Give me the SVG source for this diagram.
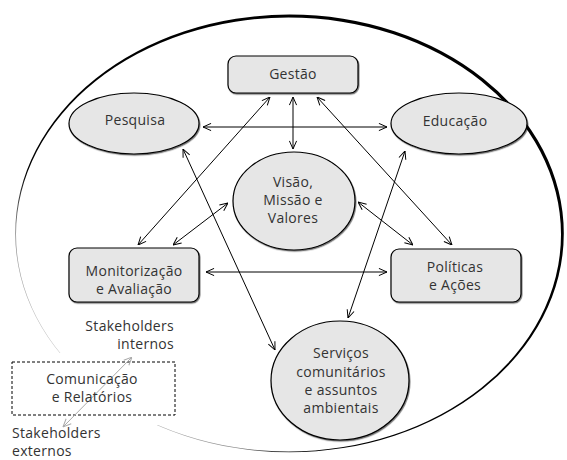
<svg xmlns="http://www.w3.org/2000/svg" width="567" height="460" viewBox="0 0 567 460">
  <style>
    .lbl { font-family: "Open Sans", "Lato", "Liberation Sans", sans-serif; font-size: 14px; letter-spacing: 0.3px; fill: #333; text-anchor: middle; }
    .node { fill: #e6e6e6; stroke: #000; stroke-width: 1.2; filter: url(#sh); }
    .conn { stroke: #000; stroke-width: 1; fill: none; marker-start: url(#ah); marker-end: url(#ah); }
    .gconn { stroke: #aaa; stroke-width: 1; fill: none; marker-start: url(#ahg); marker-end: url(#ahg); }
  </style>
  <defs>
    <marker id="ah" viewBox="0 0 10 10" refX="10" refY="5" markerWidth="9" markerHeight="9" markerUnits="userSpaceOnUse" orient="auto-start-reverse">
      <path d="M1,1 L10,5 L1,9" fill="none" stroke="#000" stroke-width="1.1"/>
    </marker>
    <marker id="ahg" viewBox="0 0 10 10" refX="10" refY="5" markerWidth="9" markerHeight="9" markerUnits="userSpaceOnUse" orient="auto-start-reverse">
      <path d="M1,1 L10,5 L1,9" fill="none" stroke="#aaa" stroke-width="1.1"/>
    </marker>
    <filter id="sh" x="-10%" y="-10%" width="125%" height="130%">
      <feDropShadow dx="0.8" dy="1.2" stdDeviation="0.6" flood-color="#000" flood-opacity="0.55"/>
    </filter>
    <linearGradient id="rimGrad" gradientUnits="userSpaceOnUse" x1="120" y1="410" x2="230" y2="300">
      <stop offset="0" stop-color="#bbb"/>
      <stop offset="0.35" stop-color="#888"/>
      <stop offset="0.65" stop-color="#000"/>
    </linearGradient>
  </defs>

  <g id="boundary">
    <path fill="url(#rimGrad)" fill-rule="evenodd" d="M15.2,233.5 a274.3,218.8 0 1,0 548.6,0 a274.3,218.8 0 1,0 -548.6,0 Z M16,234.5 a272.5,217 0 1,0 545,0 a272.5,217 0 1,0 -545,0 Z"/>
    <rect x="3" y="353" width="182" height="72" fill="#fff"/>
  </g>

  <g id="connectors">
    <line class="conn" x1="293" y1="97" x2="293" y2="149"/>
    <line class="conn" x1="203" y1="127" x2="387" y2="127"/>
    <line class="conn" x1="270" y1="97" x2="138" y2="245"/>
    <line class="conn" x1="228" y1="203" x2="173" y2="245"/>
    <line class="conn" x1="183" y1="149" x2="275" y2="350"/>
    <line class="conn" x1="317" y1="97" x2="452" y2="245"/>
    <line class="conn" x1="358" y1="202" x2="413" y2="245"/>
    <line class="conn" x1="405" y1="151" x2="348" y2="318"/>
    <line class="conn" x1="206" y1="272" x2="387" y2="272"/>
  </g>

  <g id="gestao">
    <rect class="node" x="228" y="56" width="130" height="37" rx="8"/>
    <text class="lbl" x="293" y="79">Gestão</text>
  </g>
  <g id="pesquisa">
    <ellipse class="node" cx="134" cy="123.5" rx="65" ry="30.5"/>
    <text class="lbl" x="135" y="125">Pesquisa</text>
  </g>
  <g id="educacao">
    <ellipse class="node" cx="459" cy="123.5" rx="68" ry="30.5"/>
    <text class="lbl" x="455" y="126">Educação</text>
  </g>
  <g id="visao">
    <ellipse class="node" cx="294" cy="201" rx="61" ry="49"/>
    <text class="lbl" x="293" y="187">Visão,</text>
    <text class="lbl" x="293" y="205">Missão e</text>
    <text class="lbl" x="293" y="223">Valores</text>
  </g>
  <g id="monitorizacao">
    <rect class="node" x="69" y="248" width="130" height="54" rx="8"/>
    <text class="lbl" x="134" y="276">Monitorização</text>
    <text class="lbl" x="134" y="294">e Avaliação</text>
  </g>
  <g id="politicas">
    <rect class="node" x="391" y="249" width="130" height="53" rx="8"/>
    <text class="lbl" x="455" y="272">Políticas</text>
    <text class="lbl" x="455" y="290">e Ações</text>
  </g>
  <g id="servicos">
    <ellipse class="node" cx="340" cy="380.5" rx="69" ry="59.5"/>
    <text class="lbl" x="341" y="358">Serviços</text>
    <text class="lbl" x="341" y="377">comunitários</text>
    <text class="lbl" x="341" y="395">e assuntos</text>
    <text class="lbl" x="341" y="413">ambientais</text>
  </g>

  <g id="comunicacao">
    <rect x="12" y="362" width="163" height="53" fill="none" stroke="#000" stroke-width="1" stroke-dasharray="3,2"/>
    <line class="gconn" x1="132" y1="357" x2="63" y2="427"/>
    <text class="lbl" x="92" y="384">Comunicação</text>
    <text class="lbl" x="92" y="402">e Relatórios</text>
  </g>
  <g id="stakeholders-internos">
    <text class="lbl" x="174" y="331" style="text-anchor:end">Stakeholders</text>
    <text class="lbl" x="174" y="349" style="text-anchor:end">internos</text>
  </g>
  <g id="stakeholders-externos">
    <text class="lbl" x="12" y="438" style="text-anchor:start">Stakeholders</text>
    <text class="lbl" x="12" y="456" style="text-anchor:start">externos</text>
  </g>
</svg>
